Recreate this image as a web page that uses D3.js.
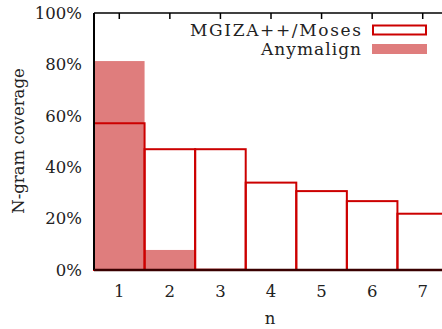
<!DOCTYPE html>
<html>
<head>
<meta charset="utf-8">
<script src="https://cdn.jsdelivr.net/npm/d3@7"></script>
<style>
  body { margin: 0; background: #fff; }
  text { font-family: "DejaVu Serif", serif; fill: #222; }
</style>
</head>
<body>
<div class="chart"></div>
<script>
const categories = ["1", "2", "3", "4", "5", "6", "7"];
const mgiza = [57.1, 47.0, 47.0, 34.0, 30.7, 26.8, 21.9];
const anymalign = [81.3, 7.8, 0.6, 0, 0, 0, 0];
const yTicks = [0, 20, 40, 60, 80, 100];

const margin = { top: 13, right: -6, bottom: 59, left: 94 };
const W = 442, H = 329;
const width = W - margin.left - margin.right,
  height = H - margin.top - margin.bottom;

const x = d3.scaleBand().domain(categories).range([0, width]).padding(0);
const y = d3.scaleLinear().domain([0, 100]).range([height, 0]);

const svg = d3.select(".chart").append("svg")
  .attr("width", W).attr("height", H)
  .append("g")
  .attr("transform", "translate(" + margin.left + "," + margin.top + ")");

// tick marks (inward, both sides)
const tl = 6;
svg.append("g").selectAll("line").data(yTicks).join("line")
  .attr("x1", width - tl).attr("x2", width)
  .attr("y1", d => y(d)).attr("y2", d => y(d))
  .attr("stroke", "#000").attr("stroke-width", 1.5);
svg.append("g").selectAll("line").data(categories).join("line")
  .attr("x1", d => x(d) + x.bandwidth() / 2).attr("x2", d => x(d) + x.bandwidth() / 2)
  .attr("y1", 0).attr("y2", tl)
  .attr("stroke", "#000").attr("stroke-width", 1.5);

// MGIZA white background
svg.append("g").selectAll("rect").data(mgiza).join("rect")
  .attr("x", (d, i) => x(categories[i]))
  .attr("y", d => y(d))
  .attr("width", x.bandwidth())
  .attr("height", d => height - y(d))
  .attr("fill", "#fff");

// Anymalign filled bars
svg.append("g").selectAll("rect").data(anymalign).join("rect")
  .attr("x", (d, i) => x(categories[i]))
  .attr("y", d => y(d))
  .attr("width", x.bandwidth())
  .attr("height", d => height - y(d))
  .attr("fill", "#df7d7d");

// MGIZA outlines
svg.append("g").selectAll("rect").data(mgiza).join("rect")
  .attr("x", (d, i) => x(categories[i]))
  .attr("y", d => y(d))
  .attr("width", x.bandwidth())
  .attr("height", d => height - y(d))
  .attr("fill", "none")
  .attr("stroke", "#cc0000")
  .attr("stroke-width", 2);

// border
svg.append("line").attr("x1", 0).attr("x2", width).attr("y1", 0).attr("y2", 0)
  .attr("stroke", "#000").attr("stroke-width", 1.5);
svg.append("line").attr("x1", 0).attr("x2", 0).attr("y1", 0).attr("y2", height)
  .attr("stroke", "#000").attr("stroke-width", 2);
svg.append("line").attr("x1", 0).attr("x2", width).attr("y1", height).attr("y2", height)
  .attr("stroke", "#3a0000").attr("stroke-width", 2.5);

// y labels
svg.append("g").selectAll("text").data(yTicks).join("text")
  .attr("x", -12).attr("y", d => y(d)).attr("dy", "0.35em")
  .attr("text-anchor", "end").attr("font-size", 16.5)
  .text(d => d + "%");

// x labels
svg.append("g").selectAll("text").data(categories).join("text")
  .attr("x", d => x(d) + x.bandwidth() / 2).attr("y", height + 21).attr("dy", "0.35em")
  .attr("text-anchor", "middle").attr("font-size", 16.5)
  .text(d => d);

// axis titles
svg.append("text")
  .attr("x", 270 - margin.left).attr("y", 318 - margin.top).attr("dy", "0.35em")
  .attr("text-anchor", "middle").attr("font-size", 16.5).text("n");
svg.append("text")
  .attr("transform", "translate(" + (18 - margin.left) + "," + (141 - margin.top) + ") rotate(-90)")
  .attr("dy", "0.35em")
  .attr("text-anchor", "middle").attr("font-size", 16.5).text("N-gram coverage");

// legend
const legend = svg.append("g").attr("transform", "translate(" + (361 - margin.left) + "," + (30 - margin.top) + ")");
legend.append("text").attr("x", -171).attr("y", 0).attr("dy", "0.35em")
  .attr("font-size", 17).attr("textLength", 171).attr("lengthAdjust", "spacing")
  .text("MGIZA++/Moses");
legend.append("rect").attr("x", 12).attr("y", -4.5).attr("width", 53).attr("height", 9)
  .attr("fill", "#fff").attr("stroke", "#cc0000").attr("stroke-width", 2);
legend.append("text").attr("x", -100).attr("y", 19).attr("dy", "0.35em")
  .attr("font-size", 17).attr("textLength", 100).attr("lengthAdjust", "spacing")
  .text("Anymalign");
legend.append("rect").attr("x", 11).attr("y", 14).attr("width", 55).attr("height", 10)
  .attr("fill", "#df7d7d");
</script>
</body>
</html>
